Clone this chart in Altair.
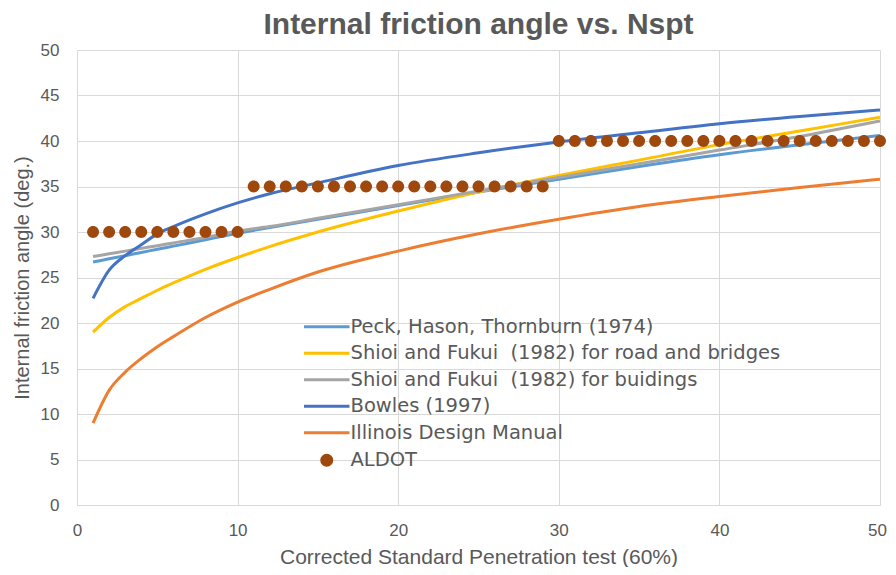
import altair as alt
import pandas as pd

# ---- data ----
n_curve = [1, 2, 3, 4, 5, 6, 8, 10, 12, 15, 20, 25, 30, 35, 40, 45, 50]
peck = [26.7, 27.05, 27.4, 27.75, 28.1, 28.45, 29.15, 29.85, 30.5, 31.4, 32.9, 34.4, 35.8, 37.2, 38.5, 39.6, 40.6]
shioi_road = [19.0, 20.6, 21.8, 22.7, 23.6, 24.4, 25.9, 27.2, 28.4, 30.0, 32.3, 34.4, 36.2, 37.9, 39.6, 41.1, 42.6]
shioi_bld = [27.3, 27.6, 27.9, 28.2, 28.5, 28.8, 29.4, 30.1, 30.6, 31.5, 33.0, 34.5, 36.0, 37.5, 39.0, 40.5, 42.2]
bowles = [22.7, 25.8, 27.4, 28.6, 29.8, 30.6, 32.0, 33.2, 34.2, 35.4, 37.3, 38.7, 39.9, 40.9, 41.9, 42.7, 43.4]
illinois = [9.0, 12.6, 14.6, 16.1, 17.4, 18.5, 20.6, 22.3, 23.7, 25.6, 27.9, 29.8, 31.4, 32.8, 33.9, 34.9, 35.8]

aldot_n = list(range(1, 51))
aldot_phi = [30, 30, 30, 30, 30, 30, 30, 30, 30, 30,
             35, 35, 35, 35, 35, 35, 35, 35, 35, 35,
             35, 35, 35, 35, 35, 35, 35, 35, 35,
             40, 40, 40, 40, 40, 40, 40, 40, 40, 40,
             40, 40, 40, 40, 40, 40, 40, 40, 40, 40, 40]

series_names = [
    "Peck, Hason, Thornburn (1974)",
    "Shioi and Fukui\u00a0 (1982) for road and bridges",
    "Shioi and Fukui\u00a0 (1982) for buidings",
    "Bowles (1997)",
    "Illinois Design Manual",
    "ALDOT",
]
colors = ["#5B9BD5", "#FFC000", "#A5A5A5", "#4472C4", "#ED7D31", "#9E480E"]
x_ticks = [0, 10, 20, 30, 40, 50]
y_ticks = [0, 5, 10, 15, 20, 25, 30, 35, 40, 45, 50]

rows = []
for name, vals in zip(series_names[:5], [peck, shioi_road, shioi_bld, bowles, illinois]):
    for n, v in zip(n_curve, vals):
        rows.append({"N": n, "phi": v, "series": name})
curves = pd.DataFrame(rows)
aldot = pd.DataFrame({"N": aldot_n, "phi": aldot_phi, "series": "ALDOT"})

stroke_path = "M-3.5,0L3.5,0"
circle_path = "M0,-0.77A0.77,0.77,0,1,1,0,0.77A0.77,0.77,0,1,1,0,-0.77Z"
shapes = [stroke_path] * 5 + [circle_path]

TXT = "#595959"
SANS = "Liberation Sans, Arial, sans-serif"

legend = alt.Legend(
    title=None, orient="none", legendX=240, legendY=267, padding=0,
    symbolSize=169, symbolStrokeWidth=3, symbolFillColor="#9E480E",
    labelFont="DejaVu Sans", labelFontSize=19.5, labelColor=TXT,
    labelOffset=14, rowPadding=5.5, labelLimit=700,
)

x = alt.X("N:Q", scale=alt.Scale(domain=[0, 50], nice=False),
          axis=alt.Axis(values=x_ticks, title="Corrected Standard Penetration test (60%)",
                        labelOffset={"condition": {"test": "datum.value == 50", "value": -3},
                                     "value": 0}))
y = alt.Y("phi:Q", scale=alt.Scale(domain=[0, 50], nice=False),
          axis=alt.Axis(values=y_ticks, title="Internal friction angle (deg.)"))
color = alt.Color("series:N", scale=alt.Scale(domain=series_names, range=colors),
                  sort=series_names, legend=legend)

lines = alt.Chart(curves).mark_line(strokeWidth=3, interpolate="monotone").encode(
    x=x, y=y, color=color, order="N:Q")
points = alt.Chart(aldot).mark_point(filled=True, size=240, opacity=1).encode(
    x=x, y=y, color=color,
    shape=alt.Shape("series:N", scale=alt.Scale(domain=series_names, range=shapes),
                    sort=series_names, legend=legend))

chart = alt.layer(lines, points).properties(
    width=803, height=455,
    autosize=alt.AutoSizeParams(type="none"),
    padding={"left": 69, "top": 42, "right": 8, "bottom": 62},
    title=alt.Title("Internal friction angle vs. Nspt", font=SANS, fontSize=30,
                    fontWeight="bold", color=TXT, anchor="middle", offset=1),
).configure_view(stroke=None).configure_axis(
    gridColor="#D9D9D9", gridWidth=1, domain=False, ticks=False,
    labelFont=SANS, labelFontSize=17, labelColor=TXT,
    titleFont=SANS, titleFontSize=20, titleColor=TXT, titleFontWeight="normal",
).configure_axisX(
    domain=True, domainColor="#D9D9D9", labelPadding=17,
    labelFlush=False, titleFontSize=21, titleBaseline="alphabetic", titleY=58,
).configure_axisY(
    labelPadding=18, titlePadding=8,
)

chart.save("out.html", embed_options={"renderer": "svg", "actions": False})
